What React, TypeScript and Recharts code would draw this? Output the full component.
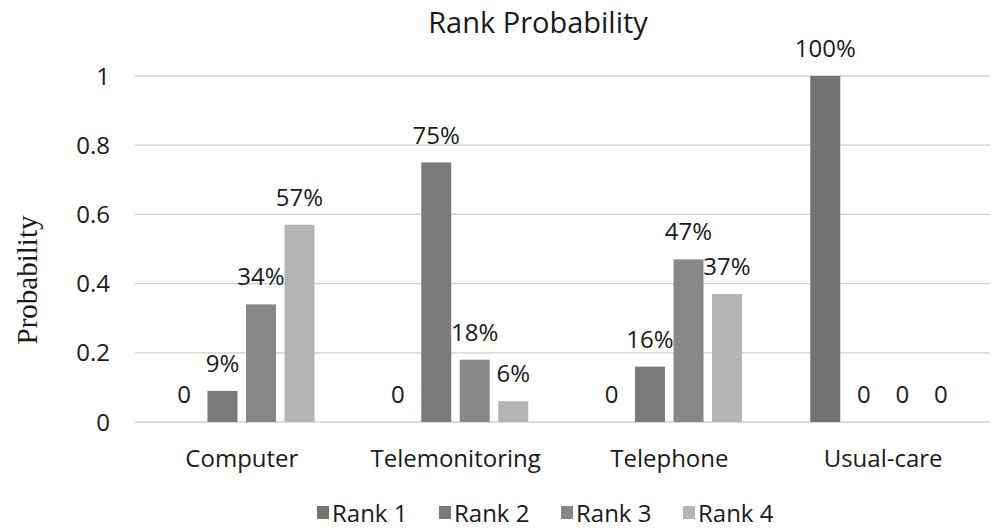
import React from 'react';
import { BarChart, Bar, XAxis, YAxis, CartesianGrid, Legend, LabelList } from 'recharts';

const categories = ['Computer', 'Telemonitoring', 'Telephone', 'Usual-care'];
const rank1 = [0, 0, 0, 1];
const rank2 = [0.09, 0.75, 0.16, 0];
const rank3 = [0.34, 0.18, 0.47, 0];
const rank4 = [0.57, 0.06, 0.37, 0];
const yTicks = [0, 0.2, 0.4, 0.6, 0.8, 1];
const seriesNames = ['Rank 1', 'Rank 2', 'Rank 3', 'Rank 4'];
const seriesColors = ['#737373', '#7a7a7a', '#888888', '#b4b4b4'];

const data = categories.map((c, i) => ({
  name: c,
  r1: rank1[i],
  r2: rank2[i],
  r3: rank3[i],
  r4: rank4[i],
}));

const keys = ['r1', 'r2', 'r3', 'r4'];

const FONT = '"Open Sans", sans-serif';
const fmt = (v: any) => (Number(v) === 0 ? '0' : `${Math.round(Number(v) * 100)}%`);

const BarLabel = (props: any) => {
  const { x, y, width, height, value } = props;
  if (x == null || y == null) return null;
  const isZero = Number(value) === 0;
  const top = isZero ? Number(y) + Number(height) : Number(y);
  return (
    <text
      x={Number(x) + Number(width) / 2}
      y={top - 19}
      textAnchor="middle"
      fontFamily={FONT}
      fontSize={24}
      fill="#1a1a1a"
    >
      {fmt(value)}
    </text>
  );
};

const makeShape = (k: string) => (props: any) => {
  const { x, y, width, height, fill, payload } = props;
  if (!payload || Number(payload[k]) === 0) return <g />;
  return <rect x={x} y={y} width={width} height={height} fill={fill} />;
};

const LegendContent = (props: any) => {
  const payload = props.payload || [];
  return (
    <div style={{ position: 'relative', height: 36, width: 992 }}>
      {payload.map((p: any, i: number) => (
        <div
          key={i}
          style={{
            position: 'absolute',
            left: 317 + i * 122,
            top: 0,
            height: 36,
            display: 'flex',
            alignItems: 'center',
            fontFamily: FONT,
            fontSize: 24,
            color: '#1a1a1a',
            whiteSpace: 'nowrap',
          }}
        >
          <span style={{ display: 'inline-block', width: 12, height: 13, background: p.color, marginRight: 3 }} />
          <span>{p.value}</span>
        </div>
      ))}
    </div>
  );
};

export default function App() {
  return (
    <div style={{ position: 'absolute', left: 0, top: 0, width: 992, height: 530, background: '#fff' }}>
      <svg width={992} height={60} style={{ position: 'absolute', left: 0, top: 0 }}>
        <text x={538} y={33} textAnchor="middle" fontFamily={FONT} fontSize={29} fill="#1a1a1a">
          Rank Probability
        </text>
      </svg>
      <svg width={80} height={530} style={{ position: 'absolute', left: 0, top: 0 }}>
        <text
          x={37}
          y={280}
          transform="rotate(-90 37 280)"
          textAnchor="middle"
          fontFamily='"Liberation Serif", "DejaVu Serif", serif'
          fontSize={29}
          fill="#1a1a1a"
        >
          Probability
        </text>
      </svg>
      <div style={{ position: 'absolute', left: 0, top: 0 }}>
        <BarChart
          width={992}
          height={530}
          data={data}
          margin={{ top: 76, right: 2, left: 0, bottom: 0 }}
          barSize={30}
          barGap={8.5}
        >
          <CartesianGrid vertical={false} stroke="#d0d0d0" strokeWidth={1.3} />
          <XAxis
            dataKey="name"
            axisLine={false}
            tickLine={false}
            tickSize={0}
            tickMargin={28}
            height={72}
            interval={0}
            tick={{ fontFamily: FONT, fontSize: 24, fill: '#1a1a1a' }}
          />
          <YAxis
            width={135}
            domain={[0, 1]}
            ticks={yTicks}
            axisLine={false}
            tickLine={false}
            tickSize={0}
            tickMargin={25}
            tick={{ fontFamily: FONT, fontSize: 24, fill: '#1a1a1a' }}
          />
          <Legend verticalAlign="bottom" content={<LegendContent />} />
          {keys.map((k, i) => (
            <Bar
              key={k}
              dataKey={k}
              name={seriesNames[i]}
              fill={seriesColors[i]}
              minPointSize={1}
              shape={makeShape(k)}
              isAnimationActive={false}
            >
              <LabelList dataKey={k} content={<BarLabel />} />
            </Bar>
          ))}
        </BarChart>
      </div>
    </div>
  );
}
